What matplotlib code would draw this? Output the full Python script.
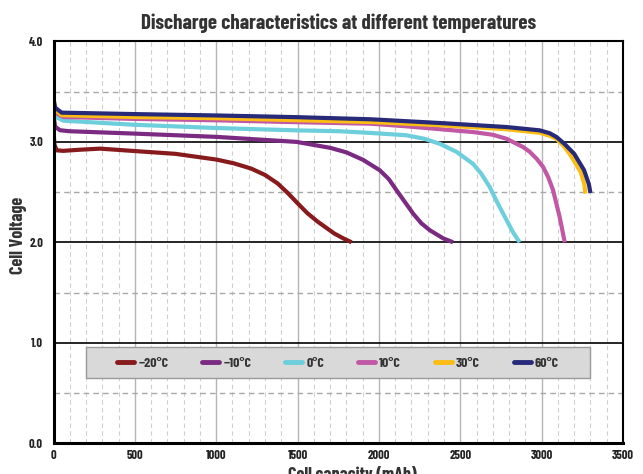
import matplotlib
matplotlib.use("Agg")
import matplotlib.pyplot as plt
from matplotlib.ticker import MultipleLocator
from matplotlib.patches import Rectangle
from matplotlib import font_manager as fm

# ---- data ----
cap_m20 = [0, 6, 20, 60, 150, 286, 490, 750, 1002, 1110, 1214, 1300, 1378, 1440, 1501, 1560, 1624, 1726, 1780, 1832]
v_m20 = [3.10, 2.97, 2.915, 2.91, 2.92, 2.932, 2.909, 2.88, 2.823, 2.785, 2.734, 2.67, 2.585, 2.49, 2.387, 2.29, 2.205, 2.087, 2.04, 2.00]

cap_m10 = [0, 10, 40, 100, 490, 1002, 1494, 1700, 1800, 1903, 2005, 2060, 2108, 2160, 2210, 2260, 2313, 2394, 2456]
v_m10 = [3.26, 3.15, 3.115, 3.105, 3.082, 3.049, 2.999, 2.94, 2.895, 2.82, 2.717, 2.63, 2.518, 2.40, 2.286, 2.19, 2.12, 2.04, 2.00]

cap_0 = [0, 10, 61, 490, 1002, 1494, 1760, 1951, 2169, 2280, 2374, 2477, 2579, 2630, 2681, 2720, 2763, 2824, 2865]
v_0 = [3.31, 3.25, 3.21, 3.17, 3.137, 3.114, 3.105, 3.088, 3.065, 3.03, 2.98, 2.90, 2.78, 2.68, 2.55, 2.42, 2.286, 2.10, 2.00]

cap_10 = [0, 10, 61, 490, 1002, 1500, 1951, 2169, 2579, 2700, 2784, 2886, 2927, 2970, 3009, 3040, 3070, 3111, 3142]
v_10 = [3.36, 3.29, 3.247, 3.228, 3.214, 3.195, 3.18, 3.154, 3.097, 3.07, 3.03, 2.948, 2.90, 2.83, 2.75, 2.65, 2.52, 2.25, 2.00]

cap_30 = [0, 10, 50, 490, 1000, 1500, 1951, 2374, 2784, 2988, 3050, 3091, 3140, 3180, 3240, 3262, 3269]
v_30 = [3.41, 3.32, 3.265, 3.247, 3.235, 3.215, 3.197, 3.165, 3.125, 3.09, 3.06, 3.03, 2.95, 2.86, 2.70, 2.58, 2.485]

cap_60 = [0, 10, 50, 490, 1000, 1500, 1951, 2374, 2784, 2988, 3050, 3091, 3140, 3200, 3260, 3290, 3300]
v_60 = [3.43, 3.34, 3.29, 3.276, 3.262, 3.245, 3.224, 3.187, 3.147, 3.114, 3.085, 3.048, 2.98, 2.88, 2.72, 2.58, 2.49]

labels = ["\u221220\u00b0C", "\u221210\u00b0C", "0\u00b0C", "10\u00b0C", "30\u00b0C", "60\u00b0C"]
colors = ["#861a1c", "#7b2a82", "#6dcfdc", "#c158a5", "#fbbd13", "#262a78"]

x_ticks = [0, 500, 1000, 1500, 2000, 2500, 3000, 3500]
y_ticks = [0.0, 1.0, 2.0, 3.0, 4.0]

series = [(cap_m20, v_m20), (cap_m10, v_m10), (cap_0, v_0),
          (cap_10, v_10), (cap_30, v_30), (cap_60, v_60)]

# pick a condensed font if one is installed
available = {f.name for f in fm.fontManager.ttflist}
candidates = ["Barlow Condensed", "Barlow Semi Condensed", "Roboto Condensed",
              "Saira Condensed", "Archivo Narrow", "PT Sans Narrow",
              "Liberation Sans Narrow", "Open Sans Condensed", "Oswald"]
main_font = next((c for c in candidates if c in available), "DejaVu Sans")
FONT = [main_font, "DejaVu Sans"]
plt.rcParams["font.family"] = FONT

DPI = 100
fig = plt.figure(figsize=(6.43, 4.74), dpi=DPI)
ax = fig.add_axes([53.5/643, 1-443.3/474, 569.5/643, 402/474])
renderer = fig.canvas.get_renderer()


def fit_size(sample, target_px, base=10.0):
    t = fig.text(0, 0, sample, fontsize=base, fontweight="bold", family=FONT)
    w = t.get_window_extent(renderer).width
    t.remove()
    return base * target_px / w


ax.set_xlim(0, 3500)
ax.set_ylim(0, 4.0)

# grid
ax.xaxis.set_minor_locator(MultipleLocator(100))
ax.yaxis.set_minor_locator(MultipleLocator(0.5))
ax.grid(which="minor", axis="x", color="#cfcfcf", linestyle=(0, (4, 3)), linewidth=0.8)
ax.grid(which="major", axis="x", color="#b5b5b5", linestyle="-", linewidth=1.0)
ax.grid(which="minor", axis="y", color="#a8a8a8", linestyle=(0, (4, 3)), linewidth=1.0)
ax.grid(which="major", axis="y", color="black", linestyle="-", linewidth=1.2)
ax.set_axisbelow(True)

handles = []
for (cx, vy), c, lab in zip(series, colors, labels):
    ln, = ax.plot(cx, vy, color=c, linewidth=3.0, label=lab,
                  solid_capstyle="butt", solid_joinstyle="round")
    handles.append(ln)

tick_size = fit_size("2.0", 14)
ax.set_xticks(x_ticks)
ax.set_yticks(y_ticks)
ax.set_xticklabels([str(t) for t in x_ticks])
ax.set_yticklabels([f"{t:.1f}" for t in y_ticks])
ax.tick_params(which="both", length=0, labelsize=tick_size)
ax.tick_params(axis="x", pad=5)
ax.tick_params(axis="y", pad=7.5)
for lab in ax.get_xticklabels() + ax.get_yticklabels():
    lab.set_fontweight("bold")
    lab.set_color("#222222")

for s in ax.spines.values():
    s.set_color("black")
    s.set_linewidth(1.5)
ax.spines["left"].set_linewidth(2.2)
ax.spines["bottom"].set_linewidth(2.2)

title_text = "Discharge characteristics at different temperatures"
ax.set_title(title_text, fontsize=fit_size(title_text, 395),
             fontweight="bold", color="#333333", pad=8.6)

lab_size = fit_size("Cell Voltage", 77)
ax.set_ylabel("Cell Voltage", fontsize=lab_size, fontweight="bold",
              color="#333333")
ax.yaxis.set_label_coords(-0.0465, 0.516)
ax.set_xlabel("Cell capacity (mAh)", fontsize=lab_size, fontweight="bold",
              color="#333333")
ax.xaxis.set_label_coords(0.524, -0.0565)

# legend box
x0, y0, w, h = 0.057, 0.162, 0.885, 0.077
ax.add_patch(Rectangle((x0, y0), w, h, transform=ax.transAxes,
                       facecolor="#d9d9d9", edgecolor="#9a9a9a",
                       linewidth=1.0, zorder=5))
leg_size = fit_size(labels[0], 30)
em_px = leg_size * DPI / 72.0
leg = ax.legend(handles=handles, loc="center", ncol=6,
                bbox_to_anchor=(x0 + w / 2, y0 + h / 2),
                frameon=False, handlelength=17 / em_px,
                handletextpad=4 / em_px, columnspacing=34 / em_px,
                borderaxespad=0, borderpad=0,
                prop={"family": FONT, "weight": "bold", "size": leg_size})
leg.set_zorder(6)
for ln in leg.get_lines():
    ln.set_linewidth(3.5)
    ln.set_solid_capstyle("round")
for t in leg.get_texts():
    t.set_color("#333333")

fig.savefig("out.png", dpi=DPI, facecolor="white")
